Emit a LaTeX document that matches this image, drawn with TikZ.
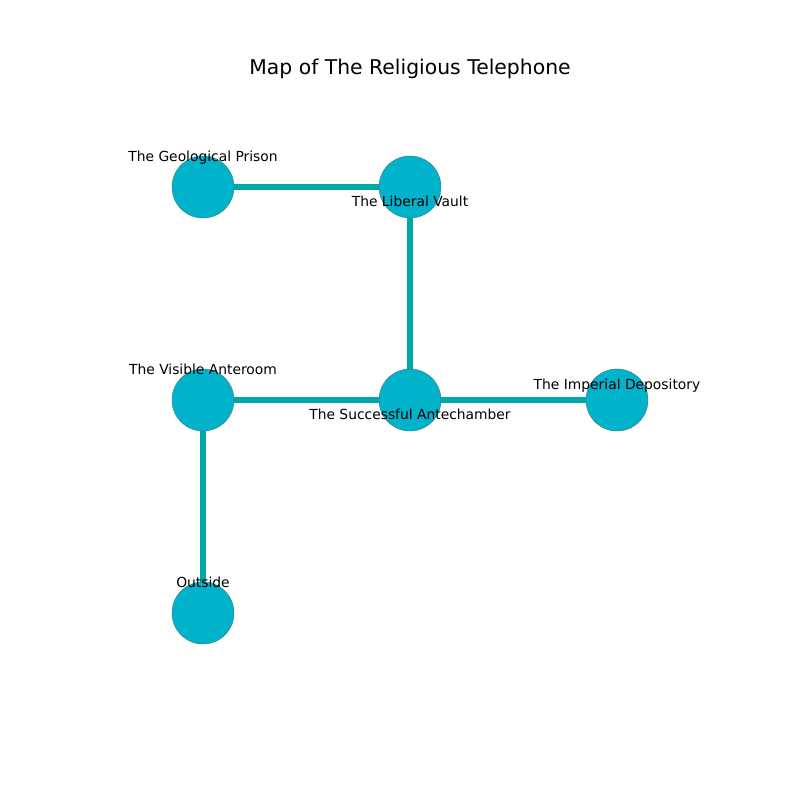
\documentclass[tikz,border=0pt]{standalone}
\usepackage{fontspec}
\setmainfont{DejaVu Sans}
\definecolor{nodefill}{RGB}{0,178,202}
\definecolor{edgecol}{RGB}{0,168,170}
\definecolor{nodeborder}{RGB}{60,120,130}
\begin{document}
\begin{tikzpicture}[x=0.01in,y=-0.01in,
  place/.style={circle,fill=nodefill,draw=nodeborder,line width=0.3pt,inner sep=0pt,minimum size=0.62in},
  lbl/.style={font=\fontsize{10pt}{12pt}\selectfont,inner sep=0pt,text height=7.3pt,text depth=0pt,anchor=center},
  link/.style={draw=edgecol,line width=4pt}]
\useasboundingbox (0,0) rectangle (800,800);
\node[font=\fontsize{14.7pt}{17pt}\selectfont,inner sep=0pt,text height=10.7pt,text depth=0pt] (title) at (410,67) {Map of The Religious Telephone};
\coordinate (pg) at (203,187);
\coordinate (pl) at (410,187);
\coordinate (pv) at (203,400);
\coordinate (ps) at (410,400);
\coordinate (pi) at (617,400);
\coordinate (po) at (203,613);
\draw[link] (pg) -- (pl);
\draw[link] (pl) -- (ps);
\draw[link] (pv) -- (ps);
\draw[link] (ps) -- (pi);
\draw[link] (pv) -- (po);
\node[place] (geo) at (pg) {};
\node[place] (lib) at (pl) {};
\node[place] (vis) at (pv) {};
\node[place] (suc) at (ps) {};
\node[place] (imp) at (pi) {};
\node[place] (out) at (po) {};
\node[lbl] (lgeo) at (203,156) {The Geological Prison};
\node[lbl] (llib) at (410,201) {The Liberal Vault};
\node[lbl] (lvis) at (203,369) {The Visible Anteroom};
\node[lbl] (lsuc) at (410,414) {The Successful Antechamber};
\node[lbl] (limp) at (617,384) {The Imperial Depository};
\node[lbl] (lout) at (203,582) {Outside};
\end{tikzpicture}
\end{document}
